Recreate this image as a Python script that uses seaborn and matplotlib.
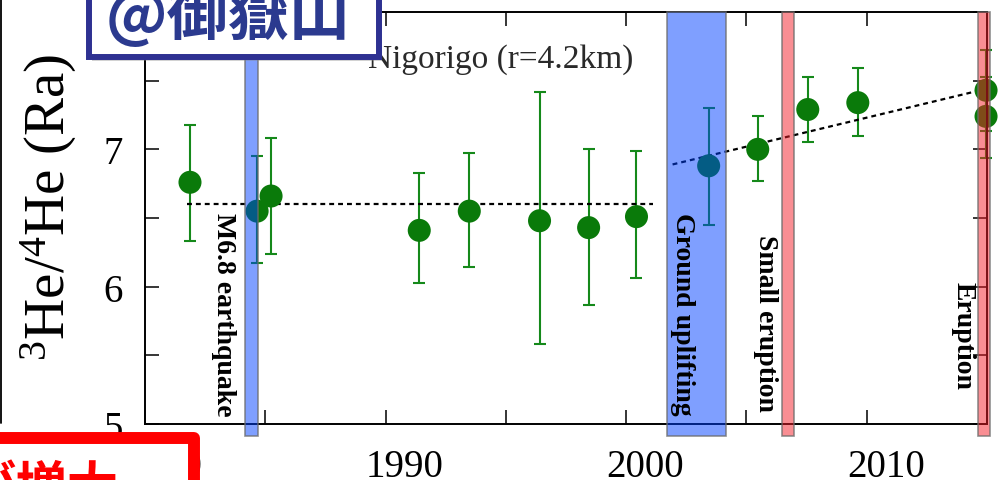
import numpy as np
import pandas as pd
import matplotlib
matplotlib.use("Agg")
import matplotlib.pyplot as plt
import seaborn as sns
from matplotlib.patches import Rectangle
from matplotlib.lines import Line2D
from matplotlib.transforms import ScaledTranslation

# ---------------- data ----------------
years = [1981.87, 1984.66, 1985.24, 1991.40, 1993.48, 1996.40, 1998.44,
         2000.43, 2003.43, 2005.47, 2007.55, 2009.63, 2014.96, 2014.96]
ratio = [6.76, 6.55, 6.66, 6.41, 6.55, 6.48, 6.43,
         6.51, 6.88, 7.00, 7.29, 7.34, 7.43, 7.24]
upper = [7.18, 6.95, 7.08, 6.83, 6.97, 7.42, 7.00,
         6.99, 7.30, 7.24, 7.53, 7.59, 7.72, 7.53]
lower = [6.33, 6.17, 6.24, 6.03, 6.14, 5.58, 5.87,
         6.06, 6.45, 6.77, 7.05, 7.10, 7.13, 6.94]

flat_x = [1981.75, 2001.10]
flat_y = [6.60, 6.60]
slope_x = [2001.93, 2014.96]
slope_y = [6.89, 7.44]

event_labels = ["M6.8 earthquake", "Ground uplifting", "Small eruption", "Eruption"]
event_start = [1984.16, 2001.68, 2006.47, 2014.62]
event_end = [1984.70, 2004.14, 2006.97, 2015.12]
event_kind = ["blue", "blue", "red", "red"]
event_text_x = [1983.25, 2002.35, 2005.80, 2014.00]
event_text_y = [6.545, 6.545, 6.385, 6.04]

xtick_pos = [1980, 1985, 1990, 1995, 2000, 2005, 2010, 2015]
xtick_lab = ["1980", "", "1990", "", "2000", "", "2010", ""]
ytick_pos = [5, 5.5, 6, 6.5, 7, 7.5, 8]
ytick_lab = ["5", "", "6", "", "7", "", ""]

site_label = "Nigorigo (r=4.2km)"
ylabel = r"$^{3}$He/$^{4}$He (Ra)"
title_box = "@御嶽山"
red_note = "が増大"

df = pd.DataFrame({"year": years, "ratio": ratio})

# ---------------- style ----------------
sns.set_theme(style="ticks")
plt.rcParams["font.family"] = ["Liberation Serif", "DejaVu Serif"]
plt.rcParams["mathtext.fontset"] = "custom"
plt.rcParams["mathtext.rm"] = "Liberation Serif"
plt.rcParams["mathtext.it"] = "Liberation Serif:italic"
plt.rcParams["mathtext.bf"] = "Liberation Serif:bold"

fig = plt.figure(figsize=(10, 4.81), dpi=100)
fig.patch.set_facecolor("white")
ax = fig.add_axes([0.145, 56 / 481, 0.842, 412 / 481])
ax.set_facecolor("white")

green = "#0a7a0a"
egreen = "#15891a"

# error bars
yerr = [np.subtract(ratio, lower), np.subtract(upper, ratio)]
eb = ax.errorbar(years, ratio, yerr=yerr, fmt="none", ecolor=egreen,
                 elinewidth=1.5, capsize=4.6, capthick=1.5, zorder=2)
for art in eb.lines[1] + eb.lines[2]:
    art.set_clip_on(False)

# points
sns.scatterplot(data=df, x="year", y="ratio", ax=ax, s=275, color=green,
                edgecolor="none", linewidth=0, zorder=2.5, legend=False,
                clip_on=False)

# trend lines
ax.plot(flat_x, flat_y, color="black", lw=1.6, linestyle=(0, (2.2, 1.8)), zorder=2.2)
ax.plot(slope_x, slope_y, color="black", lw=1.6, linestyle=(0, (2.2, 1.8)), zorder=2.2)

# event bands
band_colors = {"blue": (0.0, 0.25, 1.0, 0.5), "red": (0.96, 0.12, 0.16, 0.5)}
for x0, x1, kind in zip(event_start, event_end, event_kind):
    ax.axvspan(x0, x1, ymin=-0.029, ymax=1.0, facecolor=band_colors[kind],
               edgecolor=(0.42, 0.42, 0.42, 0.75), lw=1.2, zorder=3, clip_on=False)

for lab, tx, ty in zip(event_labels, event_text_x, event_text_y):
    ax.text(tx, ty, lab, rotation=270, ha="center", va="top", fontsize=20,
            fontweight="bold", color="black", zorder=5)

ax.text(1994.77, 7.60, site_label, ha="center", va="baseline", fontsize=24,
        color="#2a2a2a", zorder=5)

# axes
ax.set_xlim(1980, 2015)
ax.set_ylim(5, 8)
ax.set_xticks(xtick_pos)
ax.set_xticklabels(xtick_lab)
ax.set_yticks(ytick_pos)
ax.set_yticklabels(ytick_lab)
ax.tick_params(axis="both", direction="in", length=10, width=1.1, top=True,
               right=True, labelsize=28, colors="black")
ax.tick_params(axis="x", pad=17)
ax.tick_params(axis="y", pad=16)
for sp in ax.spines.values():
    sp.set_linewidth(1.4)
    sp.set_color("black")
    sp.set_visible(True)
ax.set_xlabel("")
ax.set_ylabel(ylabel, fontsize=41, color="black", va="center")
ax.yaxis.set_label_coords(-0.114, 0.529)

offset = ScaledTranslation(0.19, 0, fig.dpi_scale_trans)
for lab in ax.get_xticklabels():
    lab.set_transform(lab.get_transform() + offset)

# ---------------- overlays ----------------
fig.add_artist(Line2D([0.0012, 0.0012], [(481 - 424) / 481, 1.0],
                      color="black", lw=1.3, transform=fig.transFigure))

# blue title box (shadow + box)
shadow = Rectangle((92 / 1000, (481 - 62) / 481), 0.29, 0.3,
                   transform=fig.transFigure, facecolor=(0.5, 0.5, 0.5, 0.35),
                   edgecolor="none", zorder=1)
fig.add_artist(shadow)
box = Rectangle((89 / 1000, (481 - 58) / 481), 0.29, 0.3,
                transform=fig.transFigure, facecolor="white",
                edgecolor="#2e3192", lw=4.3, zorder=2)
fig.add_artist(box)
fig.text(0.228, (481 - 35) / 481, title_box, ha="center", va="baseline",
         fontsize=44, fontweight="bold", color="#2b3a8f",
         family=["Noto Sans CJK JP", "DejaVu Sans"], zorder=4)

# red note box
rbox = Rectangle((-0.05, -0.2), 0.05 + 193.5 / 1000, 0.2 + (481 - 439) / 481,
                 transform=fig.transFigure, facecolor="white",
                 edgecolor="#ff0000", lw=8.6, joinstyle="round", zorder=2)
fig.add_artist(rbox)
fig.text(-0.036, (481 - 504) / 481, red_note, ha="left", va="baseline",
         fontsize=37, fontweight="bold", color="#ff0000",
         family=["Noto Sans CJK JP", "DejaVu Sans"], zorder=4)

fig.savefig("out.png", dpi=100)
